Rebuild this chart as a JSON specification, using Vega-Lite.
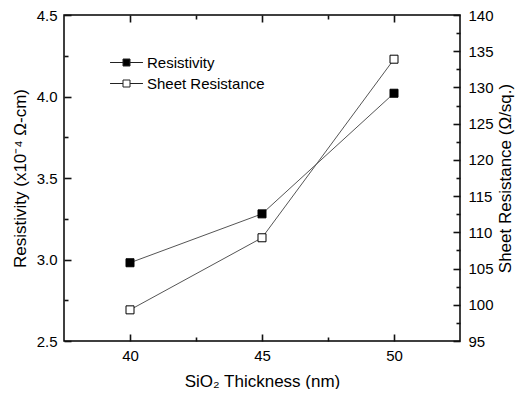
{
  "$schema": "https://vega.github.io/schema/vega-lite/v6.json",
  "width": 396,
  "height": 326,
  "padding": {"left": 11, "top": 8, "right": 2, "bottom": 0},
  "autosize": {"type": "pad"},
  "background": "white",
  "config": {
    "font": "Liberation Sans",
    "view": {"stroke": "black", "strokeWidth": 1.5},
    "axis": {
      "domain": false,
      "grid": false,
      "ticks": true,
      "tickColor": "#111",
      "tickOpacity": 1,
      "labelColor": "black",
      "titleColor": "black",
      "labelFont": "Liberation Sans",
      "titleFont": "Liberation Sans",
      "labelFontSize": 15,
      "titleFontSize": 17,
      "titleFontWeight": "normal",
      "tickWidth": 1.6,
      "zindex": 1
    }
  },
  "data": {"values": [
    {"t": 40, "r": 2.98, "s": 99.3},
    {"t": 45, "r": 3.28, "s": 109.25},
    {"t": 50, "r": 4.02, "s": 133.9}
  ]},
  "layer": [
    {
      "mark": {"type": "line", "color": "#555", "strokeWidth": 1},
      "encoding": {
        "x": {"field": "t", "type": "quantitative", "scale": {"domain": [37.5, 52.5], "nice": false, "zero": false},
          "axis": {"orient": "bottom", "values": [40, 45, 50], "offset": -7, "tickSize": 7, "labelPadding": 7, "title": "SiO₂ Thickness (nm)", "titlePadding": 10}},
        "y": {"field": "r", "type": "quantitative", "scale": {"domain": [2.5, 4.5], "nice": false, "zero": false},
          "axis": {"orient": "left", "values": [2.5, 3.0, 3.5, 4.0, 4.5], "format": ".1f", "offset": -7, "tickSize": 7, "labelPadding": 7, "title": "Resistivity (x10⁻⁴ Ω-cm)", "titlePadding": 7}}
      }
    },
    {
      "mark": {"type": "square", "size": 64, "stroke": "black", "strokeWidth": 1, "opacity": 1},
      "encoding": {
        "x": {"field": "t", "type": "quantitative", "scale": {"domain": [37.5, 52.5], "nice": false, "zero": false}, "axis": null},
        "y": {"field": "r", "type": "quantitative", "scale": {"domain": [2.5, 4.5], "nice": false, "zero": false}, "axis": null},
        "fill": {"datum": "Resistivity", "type": "nominal",
          "scale": {"domain": ["Resistivity", "Sheet Resistance"], "range": ["black", "white"]},
          "legend": {
            "orient": "none", "legendX": 55, "legendY": 40, "title": null,
            "symbolType": "M-4.7,0H-1M1,0H4.7M-1,-1H1V1H-1Z",
            "symbolSize": 49,
            "symbolStrokeColor": "#222",
            "symbolStrokeWidth": 1,
            "labelOffset": 13,
            "labelFontSize": 15,
            "labelFont": "Liberation Sans",
            "labelColor": "black",
            "rowPadding": 5,
            "padding": 0
          }}
      }
    },
    {
      "mark": {"type": "line", "color": "#555", "strokeWidth": 1},
      "encoding": {
        "x": {"field": "t", "type": "quantitative", "scale": {"domain": [37.5, 52.5], "nice": false, "zero": false}, "axis": null},
        "y": {"field": "s", "type": "quantitative", "scale": {"domain": [95, 140], "nice": false, "zero": false},
          "axis": {"orient": "right", "values": [95, 100, 105, 110, 115, 120, 125, 130, 135, 140], "offset": -7, "tickSize": 7, "labelPadding": 8, "title": "Sheet Resistance (Ω/sq.)", "titleAngle": 270, "titleBaseline": "top", "titlePadding": 4}}
      }
    },
    {
      "mark": {"type": "square", "size": 64, "stroke": "black", "strokeWidth": 1, "opacity": 1},
      "encoding": {
        "x": {"field": "t", "type": "quantitative", "scale": {"domain": [37.5, 52.5], "nice": false, "zero": false}, "axis": null},
        "y": {"field": "s", "type": "quantitative", "scale": {"domain": [95, 140], "nice": false, "zero": false}, "axis": null},
        "fill": {"datum": "Sheet Resistance", "type": "nominal"}
      }
    },
    {
      "mark": {"type": "point", "opacity": 0},
      "encoding": {
        "x": {"field": "t", "type": "quantitative", "scale": {"domain": [37.5, 52.5], "nice": false, "zero": false},
          "axis": {"orient": "bottom", "values": [42.5, 47.5], "offset": -4, "tickSize": 4, "labels": false, "title": null}},
        "y": {"field": "r", "type": "quantitative", "scale": {"domain": [2.5, 4.5], "nice": false, "zero": false},
          "axis": {"orient": "left", "values": [2.75, 3.25, 3.75, 4.25], "offset": -4, "tickSize": 4, "labels": false, "title": null}}
      }
    },
    {
      "mark": {"type": "point", "opacity": 0},
      "encoding": {
        "x": {"field": "t", "type": "quantitative", "scale": {"domain": [37.5, 52.5], "nice": false, "zero": false},
          "axis": {"orient": "top", "values": [40, 45, 50], "offset": -7, "tickSize": 7, "labels": false, "title": null}},
        "y": {"field": "s", "type": "quantitative", "scale": {"domain": [95, 140], "nice": false, "zero": false},
          "axis": {"orient": "right", "values": [97.5, 102.5, 107.5, 112.5, 117.5, 122.5, 127.5, 132.5, 137.5], "offset": -4, "tickSize": 4, "labels": false, "title": null}}
      }
    },
    {
      "mark": {"type": "point", "opacity": 0},
      "encoding": {
        "x": {"field": "t", "type": "quantitative", "scale": {"domain": [37.5, 52.5], "nice": false, "zero": false},
          "axis": {"orient": "top", "values": [42.5, 47.5], "offset": -4, "tickSize": 4, "labels": false, "title": null}},
        "y": {"field": "s", "type": "quantitative", "scale": {"domain": [95, 140], "nice": false, "zero": false}, "axis": null}
      }
    }
  ],
  "resolve": {"scale": {"y": "independent"}, "axis": {"x": "independent", "y": "independent"}}
}
